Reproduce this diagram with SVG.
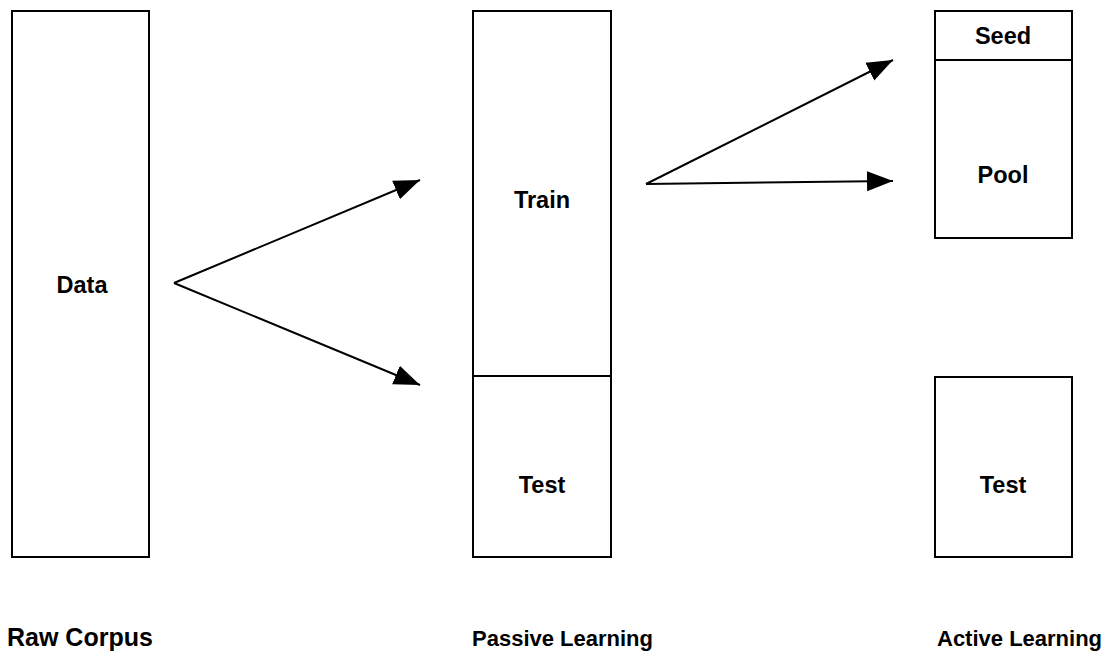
<svg xmlns="http://www.w3.org/2000/svg" width="1109" height="652" viewBox="0 0 1109 652">
  <style>
    .box { fill: #ffffff; stroke: #000000; stroke-width: 2; }
    .div { fill: none; stroke: #000000; stroke-width: 2; }
    .lbl { font-family: "Liberation Sans", Arial, sans-serif; font-weight: bold; font-size: 23.5px; fill: #000000; text-anchor: middle; }
    .cap { font-family: "Liberation Sans", Arial, sans-serif; font-weight: bold; font-size: 22px; fill: #000000; }
    .edge { fill: none; stroke: #000000; stroke-width: 2; marker-end: url(#head); }
  </style>
  <defs>
    <marker id="head" markerUnits="userSpaceOnUse" markerWidth="28" markerHeight="22" refX="26" refY="10" orient="auto" viewBox="0 0 28 20">
      <path d="M0,0 L26,10 L0,20 Z" fill="#000000"/>
    </marker>
  </defs>
  <rect width="1109" height="652" fill="#ffffff"/>

  <g id="raw-corpus">
    <rect class="box" x="12" y="11" width="137" height="546"/>
    <text class="lbl" x="82" y="293">Data</text>
  </g>

  <g id="passive-learning">
    <rect class="box" x="473" y="11" width="138" height="546"/>
    <line class="div" x1="473" y1="376" x2="611" y2="376"/>
    <text class="lbl" x="542" y="208">Train</text>
    <text class="lbl" x="542" y="493">Test</text>
  </g>

  <g id="active-pool">
    <rect class="box" x="935" y="11" width="137" height="227"/>
    <line class="div" x1="935" y1="60" x2="1072" y2="60"/>
    <text class="lbl" x="1003" y="44">Seed</text>
    <text class="lbl" x="1003" y="183">Pool</text>
  </g>

  <g id="active-test">
    <rect class="box" x="935" y="377" width="137" height="180"/>
    <text class="lbl" x="1003" y="493">Test</text>
  </g>

  <g id="connectors">
    <line class="edge" x1="174" y1="283" x2="420" y2="180"/>
    <line class="edge" x1="174" y1="283" x2="420" y2="385"/>
    <line class="edge" x1="646" y1="184" x2="893" y2="60"/>
    <line class="edge" x1="646" y1="184" x2="893" y2="181"/>
  </g>

  <g id="captions">
    <text class="cap" x="7" y="646" style="font-size:25px">Raw Corpus</text>
    <text class="cap" x="472" y="646">Passive Learning</text>
    <text class="cap" x="937" y="646">Active Learning</text>
  </g>
</svg>
